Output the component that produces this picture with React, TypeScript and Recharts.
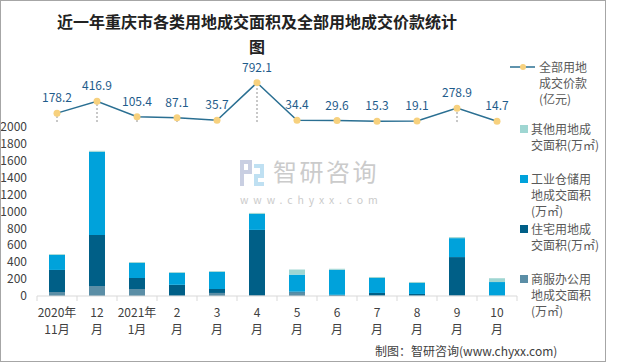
import { ComposedChart, Bar, Line, XAxis, YAxis, Legend, LabelList, ErrorBar } from 'recharts';

// 月份（换行分成两行刻度标签）
const months = ['2020年\n11月', '12\n月', '2021年\n1月', '2\n月', '3\n月', '4\n月', '5\n月', '6\n月', '7\n月', '8\n月', '9\n月', '10\n月'];

// 各类用地成交面积（万㎡）
const shangfu = [47, 118, 83, 2, 36, 12, 40, 2, 5, 3, 10, 2];
const zhuzhai = [261, 604, 130, 130, 47, 769, 12, 12, 31, 21, 450, 2];
const gongye = [177, 982, 178, 142, 201, 189, 201, 296, 177, 130, 224, 161];
const qita = [10, 12, 11, 10, 10, 12, 60, 12, 12, 12, 12, 45];

// 全部用地成交价款（亿元）
const jiakuan = [178.2, 416.9, 105.4, 87.1, 35.7, 792.1, 34.4, 29.6, 15.3, 19.1, 278.9, 14.7];

const yTicks = [0, 200, 400, 600, 800, 1000, 1200, 1400, 1600, 1800, 2000];

const seriesNames = {
  jiakuan: '全部用地成交价款(亿元)',
  qita: '其他用地成交面积(万㎡)',
  gongye: '工业仓储用地成交面积(万㎡)',
  zhuzhai: '住宅用地成交面积(万㎡)',
  shangfu: '商服办公用地成交面积(万㎡)',
};

// legend rows as they wrap in the original
const legendOrder = ['jiakuan', 'qita', 'gongye', 'zhuzhai', 'shangfu'];
const legendLines: Record<string, string[]> = {
  jiakuan: ['全部用地', '成交价款', '(亿元)'],
  qita: ['其他用地成', '交面积(万㎡)'],
  gongye: ['工业仓储用', '地成交面积', '(万㎡)'],
  zhuzhai: ['住宅用地成', '交面积(万㎡)'],
  shangfu: ['商服办公用', '地成交面积', '(万㎡)'],
};

const data = months.map((month, i) => ({
  month,
  shangfu: shangfu[i],
  zhuzhai: zhuzhai[i],
  gongye: gongye[i],
  qita: qita[i],
  jiakuan: jiakuan[i],
}));

const COLORS = {
  shangfu: '#5b8ea6',
  zhuzhai: '#005f87',
  gongye: '#00a2db',
  qita: '#9fd6d2',
  line: '#2a6f92',
  dot: '#f7d17e',
};

const MonthTick = (props: any) => {
  const { x, y, payload, index } = props;
  const half = payload && typeof payload.offset === 'number' && payload.offset > 0 ? payload.offset : 20;
  const [top, bottom] = String(payload.value).split('\n');
  return (
    <g>
      <line x1={x - half} x2={x - half} y1={y} y2={y + 5} stroke="#d9d9d9" />
      {index === months.length - 1 && <line x1={x + half} x2={x + half} y1={y} y2={y + 5} stroke="#d9d9d9" />}
      <text x={x} y={y + 21} textAnchor="middle" fontSize={12} fill="#404040">{top}</text>
      <text x={x} y={y + 38} textAnchor="middle" fontSize={12} fill="#404040">{bottom}</text>
    </g>
  );
};

const LegendBox = (props: any) => {
  const payload: any[] = props.payload || [];
  const items = legendOrder
    .map((key) => payload.find((p) => p.dataKey === key))
    .filter(Boolean);
  return (
    <div style={{ marginLeft: -7, width: 100 }}>
      {items.map((item: any, i: number) => {
        const isLine = item.dataKey === 'jiakuan';
        return (
          <div key={item.dataKey} style={{ position: 'relative', height: i === 0 ? 62 : 50, fontSize: 12, lineHeight: '16px', color: '#595959' }}>
            {isLine ? (
              <svg width={25} height={10} style={{ position: 'absolute', left: 0, top: 3 }}>
                <line x1={0} x2={25} y1={5} y2={5} stroke={COLORS.line} strokeWidth={1.5} />
                <circle cx={13} cy={5} r={3} fill={COLORS.dot} />
              </svg>
            ) : (
              <div style={{ position: 'absolute', left: 10, top: 4, width: 8, height: 8, background: item.color }} />
            )}
            <div style={{ position: 'absolute', left: isLine ? 29 : 21, top: 0, whiteSpace: 'nowrap' }}>
              {legendLines[item.dataKey].map((t) => (
                <div key={t}>{t}</div>
              ))}
            </div>
          </div>
        );
      })}
    </div>
  );
};

export default function App() {
  return (
    <div
      style={{
        position: 'absolute',
        left: 0,
        top: 0,
        width: 604,
        height: 360,
        border: '1px solid #a6a6a6',
        background: '#fff',
        fontFamily: '"Noto Sans CJK SC", "Noto Sans", sans-serif',
      }}
    >
      <div
        style={{
          position: 'absolute',
          left: 51,
          top: 8,
          width: 410,
          textAlign: 'center',
          fontSize: 16,
          fontWeight: 'bold',
          lineHeight: '25px',
          color: '#222',
        }}
      >
        近一年重庆市各类用地成交面积及全部用地成交价款统计图
      </div>

      <ComposedChart width={604} height={360} data={data} margin={{ top: 75, right: 0, bottom: 15, left: 0 }}>
        <XAxis
          dataKey="month"
          interval={0}
          tickLine={false}
          tickSize={0}
          tickMargin={0}
          height={50}
          axisLine={{ stroke: '#d9d9d9' }}
          tick={(p: any) => <MonthTick {...p} />}
        />
        <YAxis
          yAxisId="left"
          width={36}
          domain={[0, 2600]}
          ticks={yTicks}
          interval={0}
          axisLine={false}
          tickLine={false}
          tickSize={0}
          tickMargin={10}
          tick={{ fontSize: 12, fill: '#404040' }}
        />
        <YAxis yAxisId="right" orientation="right" hide domain={[-3507, 927]} />
        <Legend
          layout="vertical"
          align="right"
          verticalAlign="top"
          width={88}
          wrapperStyle={{ top: 58 }}
          content={(p: any) => <LegendBox {...p} />}
        />
        <Bar yAxisId="left" dataKey="shangfu" name={seriesNames.shangfu} stackId="a" fill={COLORS.shangfu} barSize={16} isAnimationActive={false} />
        <Bar yAxisId="left" dataKey="zhuzhai" name={seriesNames.zhuzhai} stackId="a" fill={COLORS.zhuzhai} barSize={16} isAnimationActive={false} />
        <Bar yAxisId="left" dataKey="gongye" name={seriesNames.gongye} stackId="a" fill={COLORS.gongye} barSize={16} isAnimationActive={false} />
        <Bar yAxisId="left" dataKey="qita" name={seriesNames.qita} stackId="a" fill={COLORS.qita} barSize={16} isAnimationActive={false} />
        <Line
          yAxisId="right"
          dataKey="jiakuan"
          name={seriesNames.jiakuan}
          stroke={COLORS.line}
          strokeWidth={1.5}
          dot={{ r: 3.5, fill: COLORS.dot, stroke: COLORS.dot, strokeWidth: 0 }}
          activeDot={false}
          isAnimationActive={false}
        >
          <ErrorBar
            dataKey={(d: any) => [d.jiakuan, 0]}
            direction="y"
            width={0}
            stroke="#c8c8c8"
            strokeWidth={2}
            strokeDasharray="2 2"
          />
          <LabelList dataKey="jiakuan" position="top" offset={11} fontSize={12} fill="#1f5c8b" />
        </Line>
      </ComposedChart>

      {/* 水印 */}
      <div style={{ position: 'absolute', left: 239, top: 159, pointerEvents: 'none' }}>
        <svg width={26} height={28} style={{ position: 'absolute', left: 0, top: 0 }}>
          <rect x={0} y={0} width={12} height={4} fill="#c9cfe2" />
          <rect x={0} y={0} width={4} height={26} fill="#c9cfe2" />
          <rect x={0} y={10} width={12} height={4} fill="#c9cfe2" />
          <rect x={8} y={0} width={4} height={14} fill="#c9cfe2" />
          <rect x={14} y={4} width={10} height={4} fill="#bfe0f2" />
          <rect x={20} y={4} width={4} height={12} fill="#bfe0f2" />
          <rect x={14} y={14} width={10} height={4} fill="#bfe0f2" />
          <rect x={14} y={14} width={4} height={12} fill="#bfe0f2" />
          <rect x={14} y={22} width={10} height={4} fill="#bfe0f2" />
        </svg>
        <div style={{ position: 'absolute', left: 33, top: -2, fontSize: 24, lineHeight: '26px', color: '#cbcbcb', whiteSpace: 'nowrap', letterSpacing: 2.5 }}>
          智研咨询
        </div>
        <div style={{ position: 'absolute', left: 0, top: 34, fontSize: 10.5, lineHeight: '12px', color: '#cbcbcb', whiteSpace: 'nowrap', letterSpacing: 4.9 }}>
          www.chyxx.com
        </div>
      </div>

      <div style={{ position: 'absolute', left: 374, top: 342, fontSize: 12, lineHeight: '16px', color: '#404040', whiteSpace: 'nowrap' }}>
        制图：智研咨询(www.chyxx.com)
      </div>
    </div>
  );
}
